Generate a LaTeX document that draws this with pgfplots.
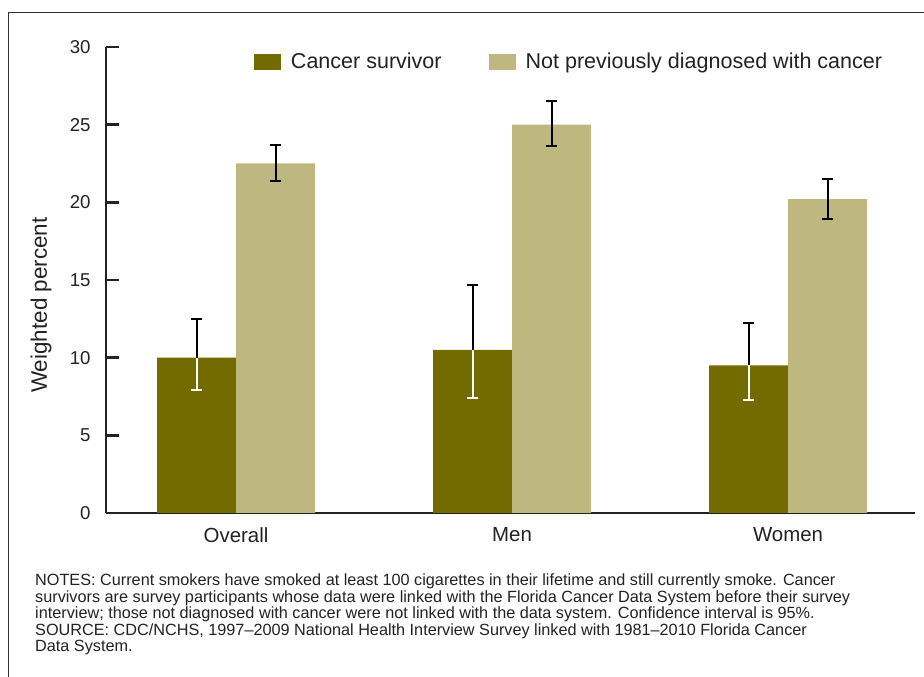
\documentclass[border=0pt]{standalone}
\usepackage{pgfplots}
\pgfplotsset{compat=1.18}
\usepackage{pgfplotstable}
\usepackage{fontspec}
\setmainfont{Liberation Sans}

\definecolor{survivor}{HTML}{736A00}
\definecolor{nodiag}{HTML}{BFB780}
\definecolor{ink}{HTML}{222222}
\definecolor{framegray}{HTML}{333333}

% pos: group index; val: weighted percent; ep/em: distance to upper/lower CI limit
\pgfplotstableread{
pos val  ep  em
0   10.0 2.5 2.1
1   10.5 4.2 3.1
2   9.5  2.7 2.2
}\survivortab
\pgfplotstableread{
pos val  ep  em
0   22.5 1.2 1.1
1   25.0 1.5 1.4
2   20.2 1.3 1.3
}\nodiagtab

\pgfplotsset{
  ci/.style 2 args={forget plot, draw=none, no markers,
    error bars/.cd, y dir=#2, y explicit,
    error bar style={draw=#1, line width=2bp},
    error mark options={draw=#1, rotate=90, mark size=5.3bp, line width=2bp}},
}

\begin{document}
\begin{tikzpicture}[x=1bp,y=1bp]
\path[use as bounding box] (0,0) rectangle (924,677);
\draw[line width=1.5bp, framegray] (8.3,0) -- (8.3,664.3) -- (924,664.3);

\begin{axis}[
  at={(106bp,164bp)}, anchor=south west,
  scale only axis, width=809bp, height=466bp,
  xmin=-0.471, xmax=2.460,
  ymin=0, ymax=30,
  axis x line*=bottom, axis y line*=left,
  axis line style={-, line width=2.8bp, ink},
  xtick={0,1,2}, xticklabels={Overall,Men,Women},
  xtick style={draw=none},
  ytick={0,5,...,30},
  tick align=inside,
  major tick length=13bp,
  ytick style={line width=2.5bp, ink},
  /pgf/number format/assume math mode=true,
  yticklabel style={font=\fontsize{18.7}{20}\selectfont, text=ink, xshift=-12bp},
  xticklabel style={font=\fontsize{20.5}{22}\selectfont, text=ink, yshift=-11bp},
  every axis y label/.style={at={(rel axis cs:-0.0803,0.446)}, rotate=90, anchor=center},
  ylabel={Weighted percent},
  ylabel style={font=\fontsize{22.5}{24}\selectfont, text=ink},
  bar width=0.2862,
  legend columns=2,
  legend style={draw=none, fill=none, at={(0.1829,0.968)}, anchor=west,
    inner sep=0pt, outer sep=0pt,
    font=\fontsize{21.6}{24}\selectfont, text=ink,
    nodes={inner sep=0pt, outer sep=0pt},
    /tikz/every odd column/.append style={column sep=10bp},
    /tikz/every even column/.append style={column sep=47bp}},
  legend image code/.code={\fill[#1] (0bp,-8bp) rectangle (27bp,8bp);},
  clip=false,
]
\addplot[ybar, bar shift=0pt, fill=survivor, draw=none]
  table[x expr=\thisrow{pos}-0.1431, y=val] {\survivortab};
\addlegendentry{Cancer survivor}
\addplot[ybar, bar shift=0pt, fill=nodiag, draw=none]
  table[x expr=\thisrow{pos}+0.1431, y=val] {\nodiagtab};
\addlegendentry{Not previously diagnosed with cancer}

% confidence intervals: black above the dark bars, white inside them
\addplot[ci={black}{plus}]
  table[x expr=\thisrow{pos}-0.1431, y=val, y error plus=ep] {\survivortab};
\addplot[ci={white}{minus}]
  table[x expr=\thisrow{pos}-0.1431, y=val, y error minus=em] {\survivortab};
\addplot[ci={black}{both}]
  table[x expr=\thisrow{pos}+0.1431, y=val, y error plus=ep, y error minus=em] {\nodiagtab};
\end{axis}

\node[anchor=base west, align=left, inner sep=0pt, text=ink,
      font=\fontsize{16.3}{16.6}\selectfont] at (35,25)
 {NOTES: Current smokers have smoked at least 100 cigarettes in their lifetime and still currently smoke. Cancer\\
  survivors are survey participants whose data were linked with the Florida Cancer Data System before their survey\\
  interview; those not diagnosed with cancer were not linked with the data system. Confidence interval is 95\%.\\
  SOURCE: CDC/NCHS, 1997--2009 National Health Interview Survey linked with 1981--2010 Florida Cancer\\
  Data System.};
\end{tikzpicture}
\end{document}
